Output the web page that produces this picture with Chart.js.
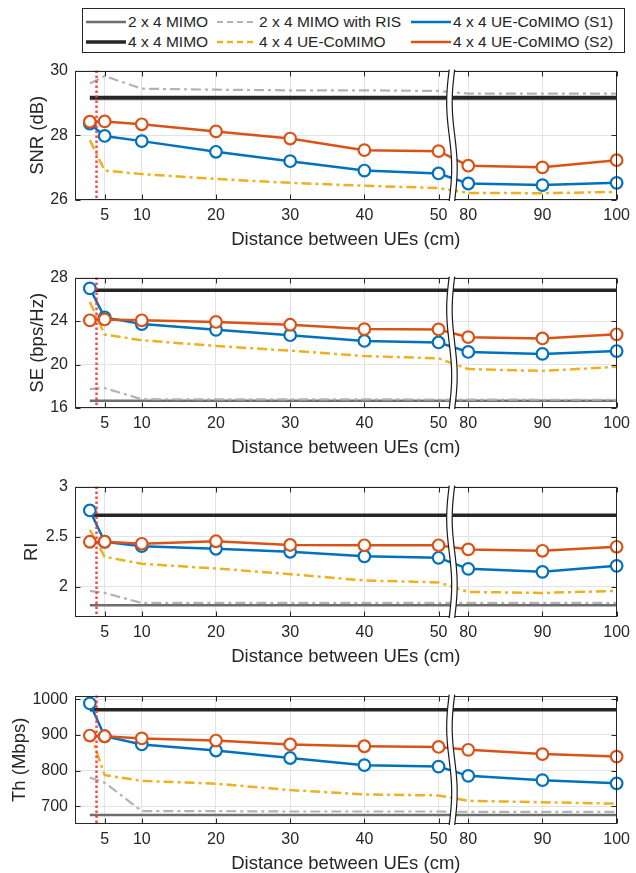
<!DOCTYPE html>
<html>
<head>
<meta charset="utf-8">
<script src="https://cdn.jsdelivr.net/npm/chart.js@4.4.1/dist/chart.umd.min.js"></script>
<style>
  body { margin: 0; background: #fff; width: 636px; height: 873px; position: relative; overflow: hidden;
         font-family: 'Liberation Sans', Arial, sans-serif; color: #262626; }
  #legend { position: absolute; left: 82px; top: 8px; width: 541px; height: 43px; border: 1px solid #262626; background: #fff; }
  .item { position: absolute; height: 20px; display: flex; align-items: center; font-size: 15.5px; white-space: nowrap; }
  .item svg { margin-right: 2px; }
  canvas { position: absolute; left: 0; }
</style>
</head>
<body>
<div id="legend"></div>
<script>
// distancias medidas (cm)
const distances = [3, 5, 10, 20, 30, 40, 50, 80, 90, 100];
const xTickLabels = [5, 10, 20, 30, 40, 50, 80, 90, 100];

const seriesNames = ['2 x 4 MIMO', '4 x 4 MIMO', '2 x 4 MIMO with RIS', '4 x 4 UE-CoMIMO',
                     '4 x 4 UE-CoMIMO (S1)', '4 x 4 UE-CoMIMO (S2)'];

// niveles constantes por panel (SNR, SE, RI, Th)
const mimo2x4 = [29.12, 16.66, 1.816, 675];
const mimo4x4 = [29.17, 26.84, 2.714, 970];

// SNR (dB)
const snrRis = [29.60, 29.83, 29.44, 29.41, 29.39, 29.39, 29.37, 29.29, 29.29, 29.29];
const snrUe  = [27.85, 26.91, 26.80, 26.65, 26.53, 26.44, 26.37, 26.22, 26.21, 26.25];
const snrS1  = [28.36, 27.98, 27.82, 27.49, 27.20, 26.91, 26.82, 26.51, 26.46, 26.53];
const snrS2  = [28.42, 28.43, 28.34, 28.12, 27.90, 27.54, 27.51, 27.06, 27.01, 27.23];

// SE (bps/Hz)
const seRis = [17.74, 17.83, 16.81, 16.80, 16.79, 16.79, 16.78, 16.77, 16.76, 16.76];
const seUe  = [25.76, 22.76, 22.23, 21.71, 21.27, 20.78, 20.57, 19.58, 19.41, 19.79];
const seS1  = [27.01, 24.33, 23.72, 23.19, 22.70, 22.17, 22.03, 21.16, 20.98, 21.24];
const seS2  = [24.07, 24.15, 24.07, 23.92, 23.66, 23.26, 23.23, 22.52, 22.40, 22.78];

// RI
const riRis = [1.960, 1.940, 1.840, 1.840, 1.840, 1.840, 1.840, 1.840, 1.840, 1.840];
const riUe  = [2.570, 2.300, 2.230, 2.184, 2.127, 2.064, 2.045, 1.950, 1.940, 1.960];
const riS1  = [2.762, 2.450, 2.406, 2.380, 2.350, 2.305, 2.290, 2.180, 2.150, 2.210];
const riS2  = [2.450, 2.450, 2.430, 2.455, 2.418, 2.415, 2.415, 2.374, 2.360, 2.400];

// Th (Mbps)
const thRis = [780, 766, 686, 686, 685, 685, 685, 684, 684, 684];
const thUe  = [908, 787, 771, 763, 745, 733, 730, 715, 711, 707];
const thS1  = [988, 896, 873, 856, 835, 815, 811, 785, 773, 764];
const thS2  = [898, 896, 890, 884, 873, 868, 866, 858, 846, 839];

const yTitles = ['SNR (dB)', 'SE (bps/Hz)', 'RI', 'Th (Mbps)'];
const yMins = [26, 16, 1.7, 650];
const yMaxs = [30, 28, 3, 1010];
const yTickValues = [[26, 28, 30], [16, 20, 24, 28], [2, 2.5, 3], [700, 800, 900, 1000]];

const markerDistance = 3.9;   // linea roja punteada

// eje roto: 50 | 80
const breakShift = 26;
const breakAt = 51.8;
const toAxis = d => d > breakAt ? d - breakShift : d;
const fromAxis = v => v > breakAt ? v + breakShift : v;

// layout
const panelTops = [64, 271, 480, 689];
const panelHeights = [136, 137, 137, 135];
const yTitleX = [37.5, 37.5, 32, 19.5];

const styles = [
  { color: '#6e6e6e', width: 2.5, dash: [] },
  { color: '#262626', width: 3.5, dash: [] },
  { color: '#b3b3b3', width: 2.2, dash: [10, 4, 3, 4] },
  { color: '#EDB120', width: 2.5, dash: [10, 4, 3, 4] },
  { color: '#0072BD', width: 2.5, dash: [], marker: true },
  { color: '#D95319', width: 2.5, dash: [], marker: true }
];

const textColor = '#262626';
const fontFamily = "'Liberation Sans', Arial, sans-serif";

// Leyenda
const legendEl = document.getElementById('legend');
const legendCols = [3, 134, 328];
const legendRows = [3, 23];
seriesNames.forEach((name, i) => {
  const st = styles[i];
  const div = document.createElement('div');
  div.className = 'item';
  div.style.left = legendCols[Math.floor(i / 2)] + 'px';
  div.style.top = legendRows[i % 2] + 'px';
  div.innerHTML = `<svg width="40" height="10"><line x1="0" y1="5" x2="40" y2="5" stroke="${st.color}"
      stroke-width="${st.width}" stroke-dasharray="${st.dash.length ? '6 4' : 'none'}"/></svg>${name}`;
  legendEl.appendChild(div);
});

const framePlugin = {
  id: 'frame',
  afterDatasetsDraw(chart) {
    const { ctx, chartArea: a, scales: { x, y } } = chart;
    ctx.save();
    // linea roja
    const mx = x.getPixelForValue(markerDistance);
    ctx.strokeStyle = 'rgba(255,50,50,0.9)';
    ctx.lineWidth = 2.5;
    ctx.setLineDash([2.5, 2.5]);
    ctx.beginPath(); ctx.moveTo(mx, a.top); ctx.lineTo(mx, a.bottom); ctx.stroke();
    ctx.setLineDash([]);

    // caja y ticks hacia dentro
    ctx.strokeStyle = textColor;
    ctx.lineWidth = 1;
    const L = Math.round(a.left) + 0.5, R = Math.round(a.right) - 0.5;
    const T = Math.round(a.top) + 0.5, B = Math.round(a.bottom) - 0.5;
    ctx.strokeRect(L, T, R - L, B - T);
    ctx.beginPath();
    x.ticks.forEach(t => {
      const px = Math.round(x.getPixelForValue(t.value)) + 0.5;
      ctx.moveTo(px, B); ctx.lineTo(px, B - 5);
      ctx.moveTo(px, T); ctx.lineTo(px, T + 5);
    });
    y.ticks.forEach(t => {
      const py = Math.round(y.getPixelForValue(t.value)) + 0.5;
      ctx.moveTo(L, py); ctx.lineTo(L + 5, py);
      ctx.moveTo(R, py); ctx.lineTo(R - 5, py);
    });
    ctx.stroke();

    // corte del eje
    const bx = x.getPixelForValue(breakAt);
    const gap = 5.5, amp = 2.5, steps = 40;
    const top = a.top - 1, bot = a.bottom + 1;
    const wave = (t, off) => bx + off - amp * Math.sin(2 * Math.PI * t);
    ctx.beginPath();
    for (let k = 0; k <= steps; k++) {
      const t = k / steps;
      const py = top + (bot - top) * t;
      k ? ctx.lineTo(wave(t, -gap / 2), py) : ctx.moveTo(wave(t, -gap / 2), py);
    }
    for (let k = steps; k >= 0; k--) {
      const t = k / steps;
      ctx.lineTo(wave(t, gap / 2), top + (bot - top) * t);
    }
    ctx.closePath();
    ctx.fillStyle = '#fff';
    ctx.fill();
    ctx.strokeStyle = '#1a1a1a';
    ctx.lineWidth = 1.2;
    [-gap / 2, gap / 2].forEach(off => {
      ctx.beginPath();
      for (let k = 0; k <= steps; k++) {
        const t = k / steps;
        const py = top + (bot - top) * t;
        k ? ctx.lineTo(wave(t, off), py) : ctx.moveTo(wave(t, off), py);
      }
      ctx.stroke();
    });
    ctx.restore();
  }
};

const panelSeries = [
  [snrRis, snrUe, snrS1, snrS2],
  [seRis, seUe, seS1, seS2],
  [riRis, riUe, riS1, riS2],
  [thRis, thUe, thS1, thS2]
];

panelSeries.forEach((series, p) => {
  const canvas = document.createElement('canvas');
  const h = 10 + panelHeights[p] + 52;
  canvas.width = 636;
  canvas.height = h;
  canvas.style.top = (panelTops[p] - 10) + 'px';
  document.body.appendChild(canvas);

  const flat = lvl => [{ x: toAxis(distances[0]), y: lvl }, { x: toAxis(distances[distances.length - 1]), y: lvl }];
  const values = [flat(mimo2x4[p]), flat(mimo4x4[p])].concat(
    series.map(arr => arr.map((v, i) => ({ x: toAxis(distances[i]), y: v })))
  );

  const datasets = values.map((data, i) => {
    const st = styles[i];
    return {
      label: seriesNames[i],
      data,
      borderColor: st.color,
      borderWidth: st.width,
      borderDash: st.dash,
      pointRadius: st.marker ? 5.8 : 0,
      pointBorderWidth: 2.2,
      pointBorderColor: st.color,
      pointBackgroundColor: '#fff',
      tension: 0,
      clip: false,
      order: 5 - i
    };
  });

  new Chart(canvas, {
    type: 'line',
    data: { datasets },
    options: {
      responsive: false,
      animation: false,
      devicePixelRatio: 1,
      layout: { padding: { top: 10, left: 0, right: 16, bottom: 0 } },
      plugins: { legend: { display: false }, tooltip: { enabled: false } },
      scales: {
        x: {
          type: 'linear',
          min: 1,
          max: toAxis(100),
          afterBuildTicks: s => { s.ticks = xTickLabels.map(d => ({ value: toAxis(d) })); },
          afterFit: s => { s.height = 52; },
          ticks: { padding: 6, maxRotation: 0, autoSkip: false, color: textColor,
                   font: { family: fontFamily, size: 16 }, callback: v => String(fromAxis(v)) },
          grid: { color: '#e3e3e3', drawTicks: false },
          border: { display: false },
          title: { display: true, text: 'Distance between UEs (cm)', color: textColor,
                   font: { family: fontFamily, size: 18.5 }, padding: { top: 0, bottom: 1 } }
        },
        y: {
          min: yMins[p],
          max: yMaxs[p],
          afterBuildTicks: s => { s.ticks = yTickValues[p].map(v => ({ value: v })); },
          afterFit: s => { s.width = 75; },
          ticks: { padding: 7, color: textColor, font: { family: fontFamily, size: 16 },
                   callback: v => String(v) },
          grid: { color: '#e3e3e3', drawTicks: false },
          border: { display: false },
          title: { display: true, text: yTitles[p], color: textColor,
                   font: { family: fontFamily, size: 18.5 }, padding: { top: yTitleX[p] - 11.1, bottom: 0 } }
        }
      }
    },
    plugins: [framePlugin]
  });
});
</script>
</body>
</html>
